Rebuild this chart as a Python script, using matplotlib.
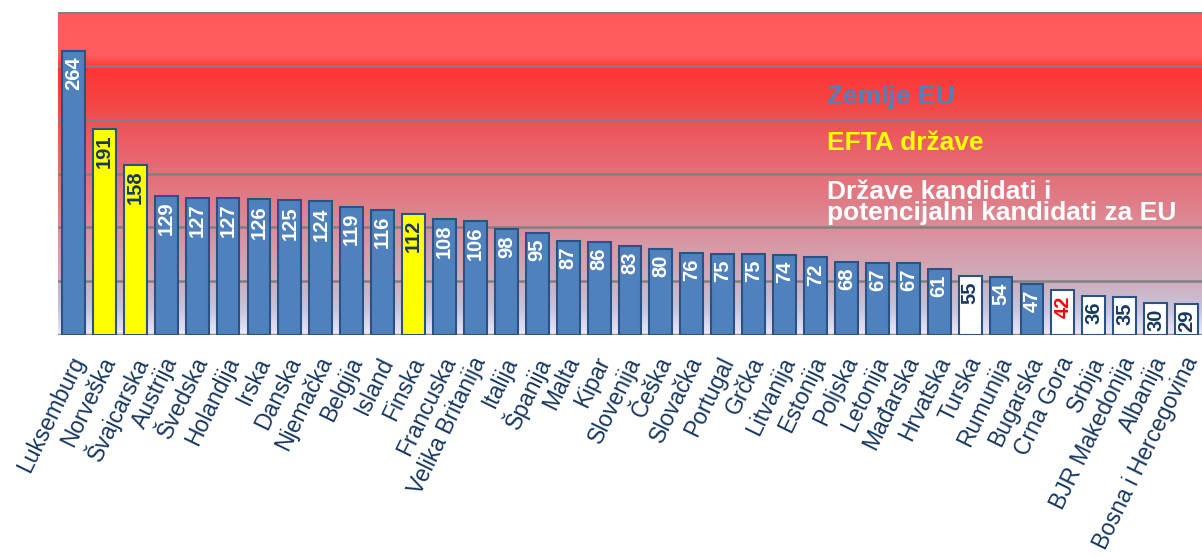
import numpy as np
import matplotlib
matplotlib.use("Agg")
import matplotlib.pyplot as plt
from matplotlib.colors import LinearSegmentedColormap
from matplotlib.transforms import ScaledTranslation

plt.rcParams['font.family'] = ['Liberation Sans', 'DejaVu Sans']

countries = ["Luksemburg", "Norveška", "Švajcarska", "Austrija", "Švedska", "Holandija",
             "Irska", "Danska", "Njemačka", "Belgija", "Island", "Finska", "Francuska",
             "Velika Britanija", "Italija", "Španija", "Malta", "Kipar", "Slovenija",
             "Češka", "Slovačka", "Portugal", "Grčka", "Litvanija", "Estonija", "Poljska",
             "Letonija", "Mađarska", "Hrvatska", "Turska", "Rumunija", "Bugarska",
             "Crna Gora", "Srbija", "BJR Makedonija", "Albanija", "Bosna i Hercegovina"]
values = [264, 191, 158, 129, 127, 127, 126, 125, 124, 119, 116, 112, 108, 106, 98, 95,
          87, 86, 83, 80, 76, 75, 75, 74, 72, 68, 67, 67, 61, 55, 54, 47, 42, 36, 35, 30, 29]
# eu / efta / cand / cand2 (red number)
groups = ["eu", "efta", "efta", "eu", "eu", "eu", "eu", "eu", "eu", "eu", "eu", "efta",
          "eu", "eu", "eu", "eu", "eu", "eu", "eu", "eu", "eu", "eu", "eu", "eu", "eu",
          "eu", "eu", "eu", "eu", "cand", "eu", "eu", "cand2", "cand", "cand", "cand", "cand"]

fill = {"eu": "#4f81bd", "efta": "#ffff00", "cand": "#ffffff", "cand2": "#ffffff"}
txtcol = {"eu": "white", "efta": "#17375e", "cand": "#17375e", "cand2": "#ff0000"}
navy = "#17375e"

fig = plt.figure(figsize=(12.02, 5.56), dpi=100)
ax = fig.add_axes([58 / 1202, 1 - 335 / 556, 1 - 58 / 1202, 323 / 556])

# background gradient
stops = [(0.0, "#f0ecf8"), (0.015, "#e4e0f4"), (0.077, "#c8c4dc"), (0.155, "#cdb0c0"),
         (0.263, "#d69ca8"), (0.418, "#e07c86"), (0.573, "#e8626a"), (0.728, "#f64444"),
         (0.83, "#ff3535"), (0.87, "#ff5e5e"), (1.0, "#ff5a5a")]
cmap = LinearSegmentedColormap.from_list("bg", stops)
grad = np.linspace(0, 1, 400).reshape(-1, 1)
n = len(values)
ax.imshow(grad, cmap=cmap, origin="lower", aspect="auto",
          extent=(-0.5, n - 0.5, 0, 300), zorder=0)

ax.set_xlim(-0.5, n - 0.5)
ax.set_ylim(0, 300)
for yv in range(50, 301, 50):
    ax.axhline(yv, color="#808080", lw=1.8, zorder=1)
ax.axhline(0, color="#909090", lw=2.5, zorder=1)

x = np.arange(n)
ax.bar(x, values, width=0.74, color=[fill[g] for g in groups],
       edgecolor="#2a5285", linewidth=1.5, zorder=2)

for xi, v, g in zip(x, values, groups):
    ax.annotate(str(v), (xi, v), xytext=(0, -4), textcoords="offset points",
                rotation=90, ha="center", va="top", fontsize=14.5,
                fontweight="bold", color=txtcol[g], zorder=3)

ax.set_xticks(x)
ax.set_xticklabels(countries, rotation=64, ha="right", va="top",
                   rotation_mode="anchor", fontsize=16.5, color=navy)
ax.tick_params(axis="x", length=0, pad=13)
shift = ScaledTranslation(-5 / 100, 0, fig.dpi_scale_trans)
for lab in ax.get_xticklabels():
    lab.set_transform(lab.get_transform() + shift)
ax.set_yticks([])
for s in ax.spines.values():
    s.set_visible(False)

ax.text(0.672, 0.738, "Zemlje EU", transform=ax.transAxes, fontsize=19,
        fontweight="bold", color="#4f81bd", va="center")
ax.text(0.672, 0.595, "EFTA države", transform=ax.transAxes, fontsize=19,
        fontweight="bold", color="#ffff00", va="center")
ax.text(0.672, 0.41, "Države kandidati i\npotencijalni kandidati za EU",
        transform=ax.transAxes, fontsize=19, fontweight="bold", color="white",
        va="center", linespacing=0.85)

fig.savefig("out.png", dpi=100)
